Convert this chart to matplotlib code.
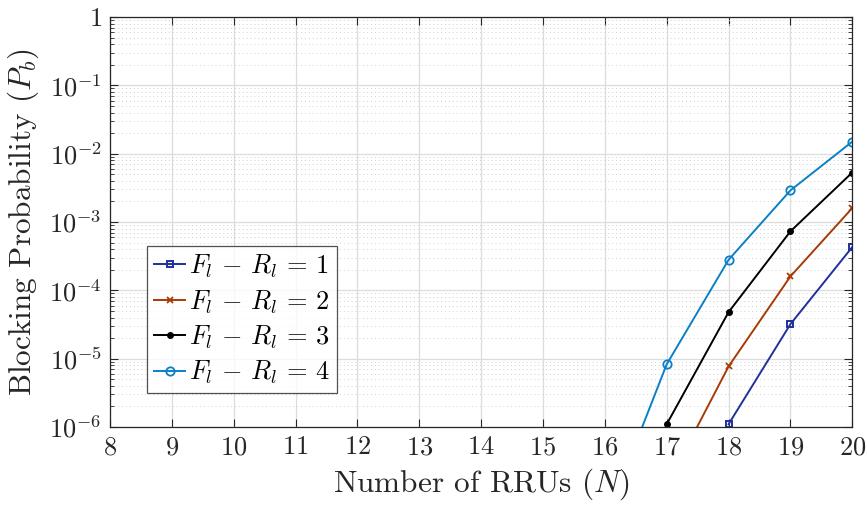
import numpy as np
import matplotlib
matplotlib.use("Agg")
import matplotlib.pyplot as plt
from matplotlib.ticker import FixedLocator, LogLocator, NullFormatter

plt.rcParams["mathtext.fontset"] = "cm"
plt.rcParams["font.family"] = "serif"
plt.rcParams["font.serif"] = ["cmr10", "DejaVu Serif"]
plt.rcParams["axes.formatter.use_mathtext"] = True

# data (values below 1e-6 are clipped by the axis)
n_rru = [16, 17, 18, 19, 20]
pb_1 = [np.nan, np.nan, 1.1e-6, 3.2e-5, 4.3e-4]
pb_2 = [np.nan, 1.4e-7, 7.7e-6, 1.6e-4, 1.6e-3]
pb_3 = [np.nan, 1.1e-6, 4.8e-5, 7.3e-4, 5.3e-3]
pb_4 = [4.0e-8, 8.3e-6, 2.8e-4, 2.9e-3, 1.5e-2]

labels = [r"$F_l \,-\, R_l \,=\, 1$", r"$F_l \,-\, R_l \,=\, 2$",
          r"$F_l \,-\, R_l \,=\, 3$", r"$F_l \,-\, R_l \,=\, 4$"]
colors = ["#20309a", "#a83a05", "#000000", "#0a80c8"]
markers = ["s", "x", "o", "o"]

x_ticks = list(range(8, 21))
y_ticks = [1e-6, 1e-5, 1e-4, 1e-3, 1e-2, 1e-1, 1]
y_ticklabels = [r"$10^{-6}$", r"$10^{-5}$", r"$10^{-4}$", r"$10^{-3}$",
                r"$10^{-2}$", r"$10^{-1}$", r"$1$"]

fig = plt.figure(figsize=(8.67, 5.08), dpi=100)
ax = fig.add_axes([0.127, 0.1594, 0.856, 0.8071])

series = [pb_1, pb_2, pb_3, pb_4]
for i, (ys, lab) in enumerate(zip(series, labels)):
    kw = dict(color=colors[i], lw=1.4, label=lab, marker=markers[i])
    if i == 0:
        kw.update(ms=4.5, mfc="none", mew=1.4)
    elif i == 1:
        kw.update(ms=4, mew=1.3)
    elif i == 2:
        kw.update(ms=4, mfc=colors[i])
    else:
        kw.update(ms=6, mfc="none", mew=1.3)
    ax.plot(n_rru, ys, clip_on=True, **kw)

ax.set_yscale("log")
ax.set_xlim(8, 20)
ax.set_ylim(1e-6, 1)
ax.xaxis.set_major_locator(FixedLocator(x_ticks))
ax.set_xticklabels([f"${t}$" for t in x_ticks])
ax.yaxis.set_major_locator(FixedLocator(y_ticks))
ax.set_yticklabels(y_ticklabels)
ax.yaxis.set_minor_locator(LogLocator(base=10, subs=np.arange(2, 10), numticks=20))
ax.yaxis.set_minor_formatter(NullFormatter())

ax.grid(True, which="major", color="#dcdcdc", lw=0.9, ls="-")
ax.grid(True, which="minor", axis="y", color="#d0d0d0", lw=0.7, ls=(0, (1, 3)))
ax.set_axisbelow(True)

ax.tick_params(which="both", direction="in", top=True, right=True,
               colors="#262626", labelcolor="#262626")
ax.tick_params(which="major", length=6, labelsize=19, pad=6)
ax.tick_params(which="minor", length=3)
for s in ax.spines.values():
    s.set_color("#262626")
    s.set_linewidth(0.9)

ax.set_xlabel(r"Number of RRUs $(N)$", fontsize=22.5, color="#262626", labelpad=5)
ax.set_ylabel(r"Blocking Probability $(P_b)$", fontsize=22.5, color="#262626", labelpad=6)

leg = ax.legend(loc="lower left", bbox_to_anchor=(0.0499, 0.083), fontsize=19,
                frameon=True, fancybox=False, edgecolor="#262626",
                handlelength=1.2, handletextpad=0.15, borderpad=0.25,
                labelspacing=0.3, borderaxespad=0)
leg.get_frame().set_linewidth(0.9)

fig.savefig("out.png", dpi=100)
